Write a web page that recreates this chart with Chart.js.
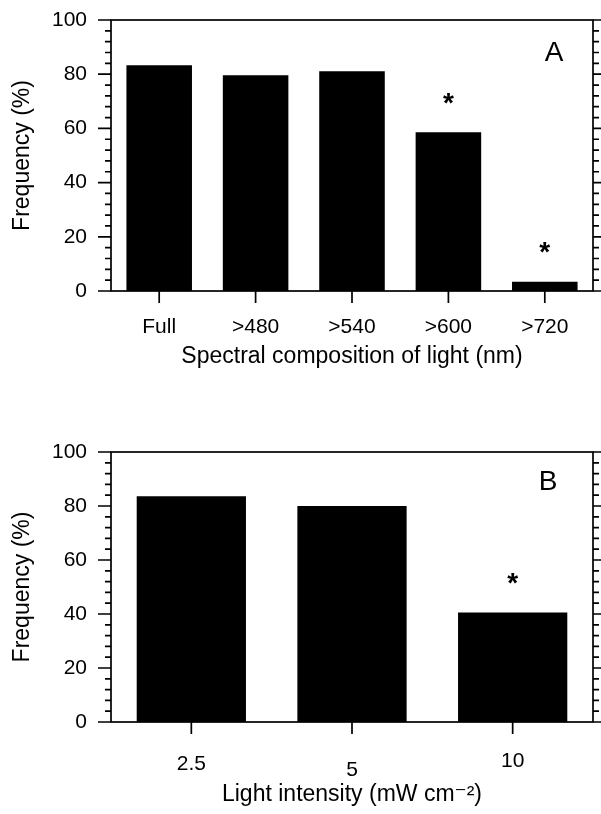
<!DOCTYPE html>
<html>
<head>
<meta charset="utf-8">
<script src="https://cdn.jsdelivr.net/npm/chart.js@4.4.0/dist/chart.umd.min.js"></script>
<style>
  body { margin: 0; background: #fff; }
  .panel { position: absolute; left: 0; width: 601px; }
</style>
</head>
<body>
<div class="panel" style="top:0;height:400px"><canvas id="chartA" width="601" height="400"></canvas></div>
<div class="panel" style="top:400px;height:414px"><canvas id="chartB" width="601" height="414"></canvas></div>
<script>
// panel A: spectral composition
const spectralLabels = ['Full', '>480', '>540', '>600', '>720'];
const spectralFreq = [83.3, 79.6, 81.1, 58.6, 3.4];
const spectralSignif = [false, false, false, true, true];

// panel B: light intensity
const intensityLabels = ['2.5', '5', '10'];
const intensityFreq = [83.6, 80, 40.6];
const intensitySignif = [false, false, true];

const FONT = '"Liberation Sans", Arial, "DejaVu Sans", sans-serif';
Chart.defaults.font.family = FONT;
Chart.defaults.color = '#000';

// box, tick marks, asterisks and panel letter
const framePlugin = {
  id: 'frame',
  afterDraw(chart, args, opts) {
    const { ctx, chartArea: a, scales: { x, y } } = chart;
    ctx.save();
    ctx.strokeStyle = '#000';
    ctx.lineWidth = 1.7;
    ctx.strokeRect(a.left, a.top, a.right - a.left, a.bottom - a.top);
    ctx.beginPath();
    for (let v = 0; v <= 100; v += 4) {
      const py = y.getPixelForValue(v);
      const major = v % 20 === 0;
      ctx.moveTo(a.left - (major ? 13 : 6), py);
      ctx.lineTo(a.left, py);
      ctx.moveTo(a.right, py);
      ctx.lineTo(a.right + (major ? 8 : 6), py);
    }
    x.getTicks().forEach((t, i) => {
      const px = x.getPixelForTick(i);
      ctx.moveTo(px, a.bottom);
      ctx.lineTo(px, a.bottom + 12);
    });
    ctx.stroke();

    ctx.fillStyle = '#000';
    ctx.textAlign = 'center';
    ctx.textBaseline = 'alphabetic';
    ctx.font = 'bold 28px ' + FONT;
    const meta = chart.getDatasetMeta(0);
    opts.signif.forEach((s, i) => {
      if (!s) return;
      const bar = meta.data[i];
      const m = ctx.measureText('*');
      const mid = (m.actualBoundingBoxAscent - m.actualBoundingBoxDescent) / 2;
      ctx.fillText('*', bar.x, bar.y - 34 + mid);
    });

    ctx.font = '28px ' + FONT;
    ctx.textBaseline = 'middle';
    ctx.fillText(opts.letter, a.right + opts.letterDx, a.top + opts.letterDy);
    ctx.restore();
  }
};

function makeChart(id, labels, values, signif, cfg) {
  const shift = cfg.labelShift || [];
  return new Chart(document.getElementById(id), {
    type: 'bar',
    data: {
      labels: labels,
      datasets: [{
        data: values,
        backgroundColor: '#000',
        borderWidth: 0,
        barPercentage: 0.68,
        categoryPercentage: 1
      }]
    },
    options: {
      responsive: false,
      animation: false,
      layout: { padding: { top: cfg.top, right: 8, left: 0, bottom: 0 } },
      plugins: {
        legend: { display: false },
        tooltip: { enabled: false },
        frame: { signif: signif, letter: cfg.letter, letterDx: cfg.letterDx, letterDy: cfg.letterDy }
      },
      scales: {
        x: {
          grid: { display: false, drawTicks: false },
          border: { display: false },
          ticks: {
            // small per-label vertical offsets as in the scanned figure
            font: (c) => ({ size: 21, lineHeight: (25.2 + 2 * (shift[c.index] || 0)) + 'px' }),
            padding: cfg.xPad,
            maxRotation: 0
          },
          title: { display: true, text: cfg.xTitle, font: { size: 23 }, padding: { top: 0, bottom: cfg.titlePad } },
          afterFit: (s) => { s.height = cfg.xHeight; }
        },
        y: {
          min: 0,
          max: 100,
          grid: { display: false, drawTicks: false },
          border: { display: false },
          ticks: { stepSize: 20, font: { size: 21 }, padding: 24 },
          title: { display: true, text: 'Frequency (%)', font: { size: 23 }, padding: { top: 9, bottom: 0 } },
          afterFit: (s) => { s.width = 111; s.paddingTop = 0; s.paddingBottom = 0; }
        }
      }
    },
    plugins: [framePlugin]
  });
}

makeChart('chartA', spectralLabels, spectralFreq, spectralSignif, {
  top: 20, xHeight: 109, xPad: 24, titlePad: 30,
  xTitle: 'Spectral composition of light (nm)',
  letter: 'A', letterDx: -39, letterDy: 33
});

makeChart('chartB', intensityLabels, intensityFreq, intensitySignif, {
  top: 52, xHeight: 92, xPad: 30, titlePad: 6, labelShift: [0, 6, -3],
  xTitle: 'Light intensity (mW cm\u207B\u00B2)',
  letter: 'B', letterDx: -45, letterDy: 30
});
</script>
</body>
</html>
